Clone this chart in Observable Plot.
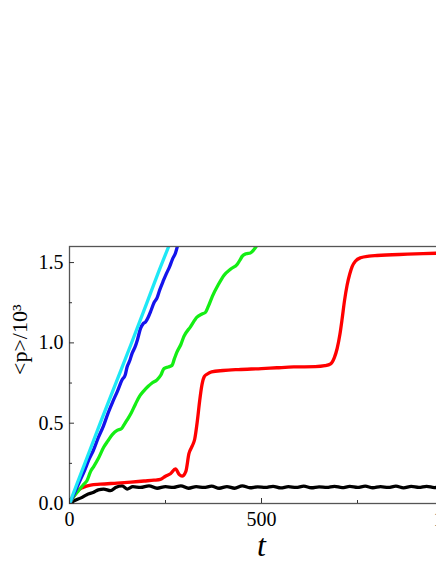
<!DOCTYPE html>
<html>
<head>
<meta charset="utf-8">
<script src="https://cdn.jsdelivr.net/npm/d3@7"></script>
<script src="https://cdn.jsdelivr.net/npm/@observablehq/plot@0.6"></script>
<style>
html, body { margin: 0; padding: 0; background: #fff; overflow: hidden; }
</style>
</head>
<body>
<div id="chart"></div>
<script>
// Series: [t, <p>/10^3]
const cyanSeries = [[0,0],[40,0.25],[80,0.5],[120,0.745],[160,0.99],[200,1.24],[230,1.43],[260,1.61]];
const blueSeries = [[0,0],[12,0.06],[25,0.13],[40,0.21],[50,0.27],[62,0.33],[75,0.41],[88,0.48],[100,0.56],[112,0.63],[125,0.7],[137,0.77],[145,0.8],[150,0.85],[157,0.89],[163,0.935],[170,0.97],[177,1.02],[185,1.09],[192,1.12],[198,1.13],[205,1.16],[212,1.2],[220,1.25],[228,1.28],[235,1.33],[245,1.39],[252,1.43],[260,1.47],[268,1.52],[276,1.56],[282,1.61]];
const greenSeries = [[0,0],[10,0.04],[20,0.07],[30,0.1],[37,0.12],[45,0.14],[55,0.2],[63,0.23],[75,0.28],[89,0.35],[100,0.39],[112,0.43],[124,0.455],[135,0.465],[142,0.49],[150,0.52],[160,0.56],[172,0.62],[183,0.67],[193,0.7],[205,0.73],[215,0.75],[228,0.77],[238,0.8],[246,0.84],[257,0.85],[267,0.86],[273,0.9],[280,0.944],[290,0.99],[298,1.04],[315,1.1],[332,1.16],[345,1.18],[354,1.19],[362,1.23],[372,1.29],[387,1.36],[402,1.42],[420,1.46],[437,1.49],[445,1.52],[450,1.54],[460,1.555],[471,1.56],[480,1.58],[489,1.61]];
const redSeries = [[0,0],[10,0.04],[20,0.075],[35,0.1],[55,0.115],[80,0.12],[124,0.127],[160,0.133],[194,0.14],[220,0.145],[237,0.15],[250,0.17],[263,0.185],[276,0.215],[286,0.18],[293,0.17],[303,0.2],[311,0.31],[320,0.36],[326,0.4],[333,0.515],[339,0.64],[345,0.74],[351,0.79],[358,0.805],[370,0.82],[400,0.828],[440,0.834],[500,0.84],[540,0.845],[584,0.85],[640,0.852],[665,0.858],[680,0.87],[690,0.91],[697,0.965],[704,1.05],[710,1.15],[716,1.26],[723,1.36],[730,1.43],[736,1.475],[745,1.51],[758,1.53],[780,1.54],[801,1.544],[880,1.552],[956,1.558],[1000,1.562]];
const blackSeries = [[0,0],[15,0.02],[30,0.035],[45,0.055],[63,0.07],[75,0.085],[89,0.09],[107,0.08],[120,0.1],[137,0.11],[150,0.09],[165,0.105],[185,0.1],[207,0.11],[228,0.095],[250,0.105],[270,0.1],[290,0.11],[310,0.095],[330,0.105],[350,0.1],[370,0.108],[390,0.095],[410,0.105],[430,0.095],[450,0.11],[470,0.098],[490,0.104],[510,0.1],[530,0.107],[550,0.097],[570,0.105],[590,0.1],[610,0.108],[630,0.098],[650,0.104],[670,0.1],[690,0.107],[710,0.099],[730,0.106],[750,0.1],[770,0.108],[790,0.098],[810,0.105],[830,0.1],[850,0.108],[870,0.097],[890,0.106],[910,0.1],[930,0.107],[950,0.099],[970,0.105],[990,0.1],[1000,0.104]];

const xMajor = [0, 500, 1000];
const xMinor = [250, 750];
const yMajor = [0, 0.5, 1.0, 1.5];
const yMinor = [0.25, 0.75, 1.25];
const xLabel = "t";
const yLabel = "<p>/10³";

const W = 490, H = 564, mL = 69, mR = 37, mT = 246, mB = 61;
const plotH = H - mT - mB, plotW = W - mL - mR;
const SERIF = "Liberation Serif";

const lineOpts = (data, color) => Plot.line(data, {x: d => d[0], y: d => d[1], stroke: color, strokeWidth: 3.3, curve: "monotone-x", clip: true});

const chart = Plot.plot({
  width: W, height: H,
  marginLeft: mL, marginRight: mR, marginTop: mT, marginBottom: mB,
  style: {fontFamily: SERIF, fontSize: "20px", color: "#000", background: "#fff", maxWidth: "none"},
  x: {domain: [0, 1000]},
  y: {domain: [0, 1.6]},
  marks: [
    lineOpts(blackSeries, "#000000"),
    lineOpts(redSeries, "#ff0000"),
    lineOpts(greenSeries, "#14ee14"),
    lineOpts(blueSeries, "#1414ec"),
    lineOpts(cyanSeries, "#1ee8f6"),
    Plot.frame({stroke: "#555", strokeWidth: 1.3}),
    Plot.tickX(xMajor, {x: d => d, insetTop: plotH - 5, stroke: "#333"}),
    Plot.tickX(xMinor, {x: d => d, insetTop: plotH - 3, stroke: "#333"}),
    Plot.tickY(yMajor, {y: d => d, insetRight: plotW - 5, stroke: "#333"}),
    Plot.tickY(yMinor, {y: d => d, insetRight: plotW - 3, stroke: "#333"}),
    Plot.axisX(xMajor, {tickSize: 0, tickPadding: 8, label: null, tickFormat: d3.format("d"), fontSize: 20, fontFamily: SERIF}),
    Plot.axisY(yMajor, {tickSize: 0, tickPadding: 6, label: null, tickFormat: d3.format(".1f"), fontSize: 20, fontFamily: SERIF}),
    Plot.text([xLabel], {frameAnchor: "bottom", dy: 52, fontSize: 32, fontStyle: "italic", fontFamily: SERIF, fill: "#000"}),
    Plot.text([yLabel], {frameAnchor: "left", dx: -50, rotate: -90, fontSize: 22, fontFamily: SERIF, fill: "#000"})
  ]
});
document.getElementById("chart").appendChild(chart);
</script>
</body>
</html>
